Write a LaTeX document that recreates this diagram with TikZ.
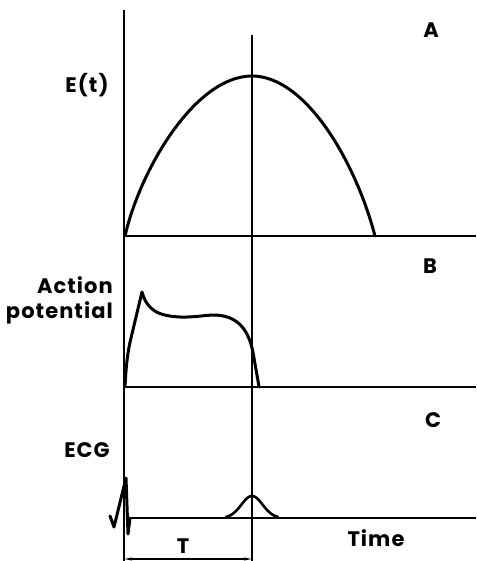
\documentclass[tikz,border=0pt]{standalone}
\usepackage{fontspec}
\setmainfont{Poppins}[LetterSpace=5]
\usetikzlibrary{arrows.meta}
\begin{document}
\begin{tikzpicture}[x=1pt,y=-1pt,
  axis/.style={line width=1.6pt},
  curve/.style={line width=3pt,line join=round,line cap=round},
  lbl/.style={font=\fontsize{21}{25}\selectfont\bfseries,inner sep=0pt},
  dim/.style={line width=1.6pt,{Stealth[length=7pt,width=2.5pt]}-{Stealth[length=7pt,width=2.5pt]}}]
\useasboundingbox (0,0) rectangle (476,561);
% frame coordinates
\coordinate (L0) at (124,10);
\coordinate (L1) at (124,561);
\coordinate (R0) at (252,35);
\coordinate (R1) at (252,561);
\coordinate (HA0) at (124,236);
\coordinate (HA1) at (476,236);
\coordinate (HB0) at (124,387);
\coordinate (HB1) at (476,387);
\coordinate (HC0) at (128,518);
\coordinate (HC1) at (476,518);
\coordinate (D0) at (124,559);
\coordinate (D1) at (252,559);
\draw[axis] (L0) -- (L1);
\draw[axis] (R0) -- (R1);
\draw[axis] (HA0) -- (HA1);
\draw[axis] (HB0) -- (HB1);
\draw[axis] (HC0) -- (HC1);
\draw[dim] (D0) -- (D1);
% E(t)
\draw[curve] (125,236) .. controls (140,170) and (195,76) .. (252,76)
  .. controls (305,76) and (355,160) .. (375,236);
% action potential
\draw[curve] (125,387) .. controls (126,365) and (128,350) .. (131,338) -- (142,292)
  .. controls (147,310) and (158,316) .. (180,317)
  .. controls (195,317.5) and (205,315) .. (215,315)
  .. controls (245,316) and (251,340) .. (254,358)
  .. controls (256,370) and (258,380) .. (259,387);
% ECG
\draw[curve] (110,516) -- (114,527) -- (126,478) -- (128,534) -- (130,518);
\draw[curve,line width=2.6pt] plot[domain=226:278,samples=60,smooth] (\x,{518-22*exp(-((\x-252)/15)^2)});
% labels
\node[lbl] (A) at (431,30) {A};
\node[lbl] (B) at (430,266) {B};
\node[lbl] (C) at (433,420) {C};
\node[lbl] (E) at (87,85) {E(t)};
\node[lbl,align=right,anchor=east] (AP) at (113,300) {Action\\potential};
\node[lbl] (ECG) at (87,450) {ECG};
\node[lbl] (T) at (183,546) {T};
\node[lbl] (Time) at (376,538) {Time};
\end{tikzpicture}
\end{document}
